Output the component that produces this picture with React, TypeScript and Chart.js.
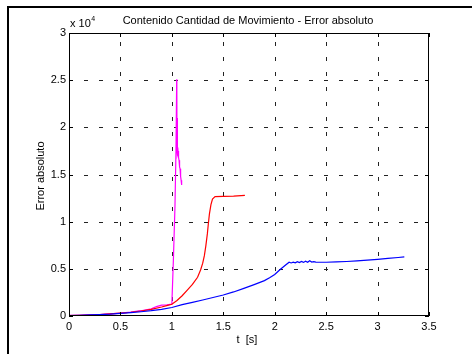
import React, { useEffect, useRef } from "react";
import { Chart, registerables } from "chart.js";

Chart.register(...registerables);

const titleText = "Contenido Cantidad de Movimiento - Error absoluto";
const xTitle = "t  [s]";
const yTitle = "Error absoluto";
const xTicks = [0, 0.5, 1, 1.5, 2, 2.5, 3, 3.5];
const yTicks = [0, 5000, 10000, 15000, 20000, 25000, 30000];

const tBlue = [0, 0.1, 0.2, 0.3, 0.4, 0.5, 0.6, 0.7, 0.8, 0.9, 1.0, 1.1, 1.2, 1.3, 1.4, 1.5, 1.6, 1.7, 1.8, 1.9, 1.95, 2.0, 2.05, 2.1, 2.14, 2.16, 2.18, 2.2, 2.22, 2.24, 2.26, 2.28, 2.3, 2.32, 2.34, 2.36, 2.38, 2.4, 2.5, 2.6, 2.7, 2.8, 2.9, 3.0, 3.1, 3.2, 3.26];
const eBlue = [50, 80, 110, 150, 200, 280, 360, 450, 560, 700, 900, 1200, 1450, 1700, 1960, 2230, 2550, 2930, 3330, 3750, 4050, 4400, 4900, 5350, 5700, 5620, 5700, 5640, 5760, 5660, 5780, 5680, 5800, 5700, 5850, 5720, 5760, 5720, 5700, 5730, 5780, 5840, 5920, 6000, 6100, 6200, 6260];

const tRed = [0, 0.1, 0.2, 0.3, 0.4, 0.5, 0.6, 0.7, 0.8, 0.9, 0.95, 1.0, 1.05, 1.1, 1.15, 1.2, 1.25, 1.28, 1.3, 1.316, 1.33, 1.345, 1.355, 1.365, 1.38, 1.395, 1.42, 1.5, 1.6, 1.71];
const eRed = [30, 60, 100, 150, 220, 300, 400, 530, 700, 950, 1100, 1250, 1650, 2150, 2750, 3350, 4100, 4900, 5600, 6400, 7400, 8700, 9800, 10800, 11800, 12400, 12650, 12680, 12700, 12780];

const tMag = [0, 0.1, 0.2, 0.3, 0.4, 0.5, 0.6, 0.7, 0.8, 0.85, 0.9, 0.95, 1.0, 1.015, 1.03, 1.04, 1.047, 1.048, 1.049, 1.05, 1.051, 1.052, 1.053, 1.054, 1.056, 1.058, 1.06, 1.065, 1.07, 1.075, 1.08, 1.085, 1.09, 1.095];
const eMag = [60, 80, 110, 160, 230, 310, 420, 560, 760, 1000, 1150, 1180, 1250, 6000, 11500, 17500, 25100, 18000, 24000, 17500, 21000, 17000, 20000, 17500, 19000, 17200, 17500, 16800, 16500, 15800, 15600, 14800, 14400, 13900];

const FONT = '"Liberation Sans", Arial, Helvetica, sans-serif';

function pts(t: number[], e: number[]) {
  return t.map((x, i) => ({ x, y: e[i] }));
}

const matlabPlugin = {
  id: "matlabAxes",
  beforeDatasetsDraw(chart: any) {
    const { ctx, chartArea: a, scales } = chart;
    ctx.save();
    ctx.strokeStyle = "#222";
    ctx.lineWidth = 1;
    ctx.setLineDash([4, 11]);
    xTicks.forEach((v, i) => {
      if (i === 0 || i === xTicks.length - 1) return;
      const px = Math.round(scales.x.getPixelForValue(v)) + 0.5;
      ctx.beginPath();
      ctx.moveTo(px, a.bottom);
      ctx.lineTo(px, a.top);
      ctx.stroke();
    });
    yTicks.forEach((v, i) => {
      if (i === 0 || i === yTicks.length - 1) return;
      const py = Math.round(scales.y.getPixelForValue(v)) + 0.5;
      ctx.beginPath();
      ctx.moveTo(a.left, py);
      ctx.lineTo(a.right, py);
      ctx.stroke();
    });
    ctx.setLineDash([]);
    ctx.restore();
  },
  afterDraw(chart: any) {
    const { ctx, chartArea: a, scales } = chart;
    ctx.save();
    ctx.fillStyle = "#000";
    const L = Math.round(a.left);
    const R = Math.round(a.right);
    const T = Math.round(a.top);
    const B = Math.round(a.bottom);
    // axes box
    ctx.fillRect(L, T, R - L, 1);
    ctx.fillRect(L, B - 1, R - L, 1);
    ctx.fillRect(L, T, 1, B - T);
    ctx.fillRect(R - 1, T, 1, B - T);
    // inward ticks
    const tl = 4;
    xTicks.forEach((v) => {
      const px = Math.round(scales.x.getPixelForValue(v));
      ctx.fillRect(px, B - tl, 1, tl);
      ctx.fillRect(px, T, 1, tl);
    });
    yTicks.forEach((v) => {
      const py = Math.round(scales.y.getPixelForValue(v));
      ctx.fillRect(L, py, tl, 1);
      ctx.fillRect(R - tl, py, tl, 1);
    });

    // outer frame
    ctx.fillRect(7, 6, 472 - 7, 2);
    ctx.fillRect(7, 6, 2, 354 - 6);
    // title
    ctx.font = "11px " + FONT;
    ctx.textAlign = "center";
    ctx.textBaseline = "middle";
    ctx.fillText(titleText, 248, 21);
    // exponent
    ctx.textAlign = "left";
    ctx.textBaseline = "alphabetic";
    ctx.fillText("x 10", L + 1, 27);
    const w = ctx.measureText("x 10").width;
    ctx.font = "7px " + FONT;
    ctx.fillText("4", L + 1 + w + 0.5, 21);
    // x title
    ctx.font = "11px " + FONT;
    ctx.textAlign = "center";
    ctx.textBaseline = "middle";
    ctx.fillText(xTitle, 247, 340);
    // y title
    ctx.translate(41, 176);
    ctx.rotate(-Math.PI / 2);
    ctx.fillText(yTitle, 0, 0);
    ctx.restore();
  },
};

export default function App() {
  const ref = useRef<HTMLCanvasElement | null>(null);
  useEffect(() => {
    if (!ref.current) return;
    const chart = new Chart(ref.current, {
      type: "line",
      data: {
        datasets: [
          { label: "blue", data: pts(tBlue, eBlue), borderColor: "#0000ff", borderWidth: 1.2, pointRadius: 0, tension: 0, fill: false },
          { label: "red", data: pts(tRed, eRed), borderColor: "#ff0000", borderWidth: 1.2, pointRadius: 0, tension: 0, fill: false },
          { label: "magenta", data: pts(tMag, eMag), borderColor: "#ff00ff", borderWidth: 1.2, pointRadius: 0, tension: 0, fill: false },
        ],
      },
      options: {
        responsive: false,
        animation: false,
        events: [],
        layout: { padding: { left: 0, top: 33, right: 43, bottom: 0 } },
        plugins: { legend: { display: false }, tooltip: { enabled: false }, title: { display: false } },
        scales: {
          x: {
            type: "linear",
            min: 0,
            max: 3.5,
            afterFit: (s: any) => { s.height = 38; },
            afterBuildTicks: (s: any) => { s.ticks = xTicks.map((v) => ({ value: v })); },
            grid: { display: false, drawTicks: false, tickLength: 0 },
            border: { display: false },
            ticks: { color: "#000", font: { family: FONT, size: 11 }, padding: 4, maxRotation: 0, autoSkip: false, callback: (v: any) => String(v) },
          },
          y: {
            type: "linear",
            min: 0,
            max: 30000,
            afterFit: (s: any) => { s.width = 69; },
            afterBuildTicks: (s: any) => { s.ticks = yTicks.map((v) => ({ value: v })); },
            grid: { display: false, drawTicks: false, tickLength: 0 },
            border: { display: false },
            ticks: { color: "#000", font: { family: FONT, size: 11 }, padding: 3, autoSkip: false, callback: (v: any) => String(Number(v) / 10000) },
          },
        },
      },
      plugins: [matlabPlugin],
    } as any);
    return () => chart.destroy();
  }, []);
  return (
    <div style={{ position: "fixed", left: 0, top: 0, width: 472, height: 354, background: "#fff" }}>
      <canvas ref={ref} width={472} height={354} style={{ display: "block", width: 472, height: 354 }} />
    </div>
  );
}
